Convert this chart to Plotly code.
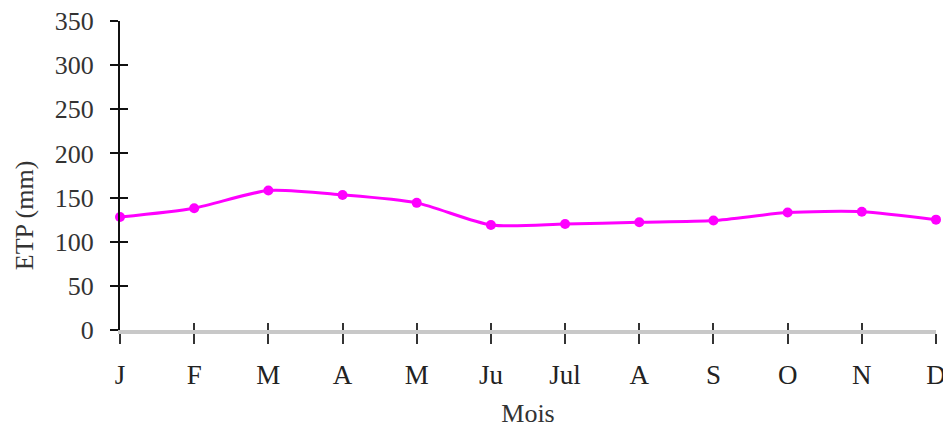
import plotly.graph_objects as go

# Monthly ETP (mm)
mois = ["J", "F", "M", "A", "M", "Ju", "Jul", "A", "S", "O", "N", "D"]
etp = [128, 138, 158, 153, 144, 119, 120, 122, 124, 133, 134, 125]
y_ticks = [0, 50, 100, 150, 200, 250, 300, 350]

x_idx = list(range(len(mois)))
serif = "Liberation Serif, Times New Roman, serif"

fig = go.Figure()

fig.add_trace(go.Scatter(
    x=x_idx, y=etp, mode="lines+markers",
    line=dict(color="#ff00ff", width=3, shape="spline", smoothing=0.7),
    marker=dict(color="#ff00ff", size=10),
    cliponaxis=False, showlegend=False,
))
# invisible trace so the overlay axes (inner half of crossing ticks) get drawn
fig.add_trace(go.Scatter(
    x=x_idx, y=etp, xaxis="x2", yaxis="y2", mode="lines",
    line=dict(width=0), opacity=0, hoverinfo="skip", showlegend=False,
))

fig.update_layout(
    width=943, height=428,
    margin=dict(l=120, r=7, t=21, b=98),
    paper_bgcolor="white", plot_bgcolor="white",
    font=dict(family=serif, color="#222"),
    xaxis=dict(
        range=[0, 11], tickvals=x_idx, ticktext=mois,
        showgrid=False, zeroline=False, automargin=False,
        showline=True, linecolor="#c8c8c8", linewidth=4,
        ticks="outside", ticklen=10, tickwidth=1.5, tickcolor="#333",
        ticklabelstandoff=8, ticklabeloverflow="allow",
        tickfont=dict(size=27, color="#222"),
        title=dict(text="Mois", font=dict(size=26, color="#333"), standoff=21),
    ),
    yaxis=dict(
        range=[0, 350], tickvals=y_ticks,
        showgrid=False, zeroline=False, automargin=False,
        showline=True, linecolor="#111", linewidth=2,
        ticks="outside", ticklen=8, tickwidth=2, tickcolor="#111",
        ticklabelstandoff=11,
        tickfont=dict(size=26, color="#333"),
    ),
    xaxis2=dict(
        overlaying="x", range=[0, 11], tickvals=x_idx, automargin=False,
        showticklabels=False, showgrid=False, zeroline=False, showline=False,
        ticks="inside", ticklen=7, tickwidth=1.5, tickcolor="#333",
    ),
    yaxis2=dict(
        overlaying="y", range=[0, 350], tickvals=y_ticks, automargin=False,
        showticklabels=False, showgrid=False, zeroline=False, showline=False,
        ticks="inside", ticklen=8, tickwidth=2, tickcolor="#111",
    ),
    annotations=[dict(
        text="ETP (mm)", textangle=-90, showarrow=False,
        xref="paper", yref="paper", x=-0.117, y=0.37,
        xanchor="center", yanchor="middle",
        font=dict(size=26, color="#333", family=serif),
    )],
)

# drop the browser's default 8px body margin so the figure sits at (0, 0)
fig.write_html("out.html", config={"displayModeBar": False},
               post_script="document.body.style.margin='0';")
